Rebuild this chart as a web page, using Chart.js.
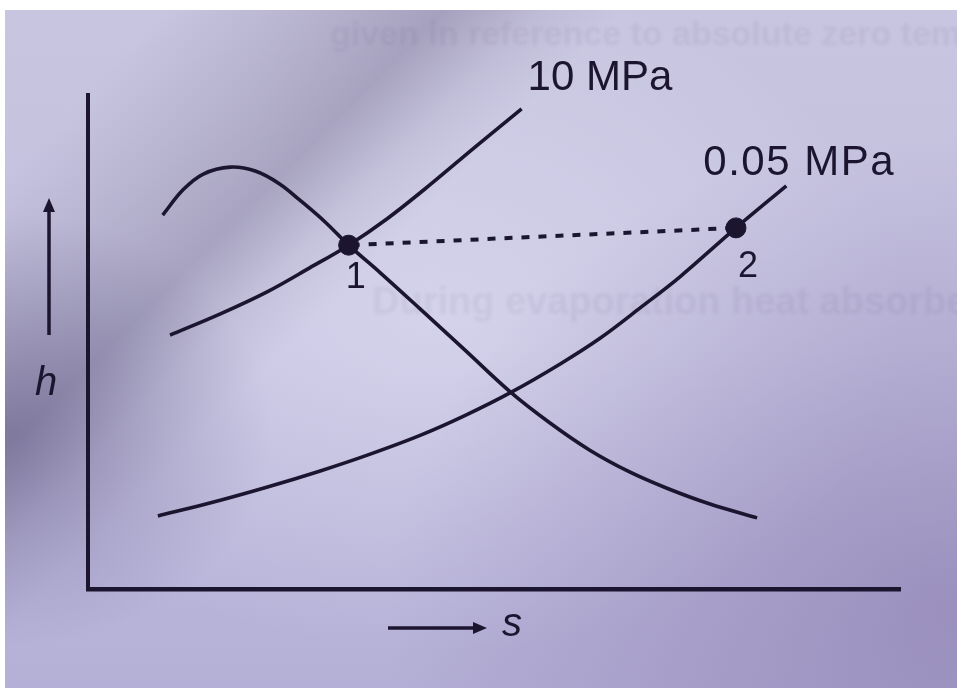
<!DOCTYPE html>
<html>
<head>
<meta charset="utf-8">
<title>h-s diagram</title>
<script src="https://cdn.jsdelivr.net/npm/chart.js@4.4.1/dist/chart.umd.min.js"></script>
<style>
    html, body { margin: 0; padding: 0; background: #fff; }
    #wrap { position: relative; width: 957px; height: 691px; overflow: hidden; }
    /* printed page under uneven light */
    #paper {
        position: absolute; left: 5px; top: 10px; width: 952px; height: 678px;
        background:
            linear-gradient(135deg, rgba(70,62,95,0) 10%, rgba(70,62,95,0.14) 19%, rgba(60,52,88,0.26) 27%, rgba(70,62,95,0.08) 33%, rgba(70,62,95,0) 38%),
            radial-gradient(ellipse 28% 32% at 0% 62%, rgba(60,50,95,0.32), rgba(60,50,95,0)),
            radial-gradient(ellipse 60% 70% at 100% 88%, rgba(110,90,150,0.40), rgba(110,90,150,0)),
            radial-gradient(ellipse 50% 50% at 45% 45%, rgba(238,238,252,0.40), rgba(238,238,252,0)),
            linear-gradient(180deg, #c8c5e0 0%, #c3c0df 50%, #b4afd6 100%);
    }
    #chart { position: absolute; left: 0; top: 0; }
</style>
</head>
<body>
<div id="wrap">
    <div id="paper"></div>
    <canvas id="chart" width="957" height="691"></canvas>
</div>
<script>
(function() {
    'use strict';

    // Saturation line (schematic units)
    var satS = [0.92, 1.17, 1.42, 1.75, 2.06, 2.36, 2.61, 2.92, 3.21, 3.60, 4.09, 4.64, 5.20, 5.69, 6.18, 6.67, 7.13, 7.66, 8.24];
    var satH = [7.57, 8.08, 8.40, 8.54, 8.46, 8.20, 7.87, 7.43, 6.96, 6.40, 5.67, 4.84, 3.99, 3.36, 2.81, 2.37, 2.04, 1.72, 1.44];

    // 10 MPa isobar
    var hpS = [1.01, 1.63, 2.20, 2.73, 3.21, 3.68, 4.21, 4.77, 5.34];
    var hpH = [5.14, 5.57, 6.01, 6.50, 6.96, 7.49, 8.18, 8.95, 9.72];

    // 0.05 MPa isobar
    var lpS = [0.86, 1.50, 2.20, 2.86, 3.44, 4.09, 4.64, 5.22, 5.81, 6.31, 6.80, 7.29, 7.98, 8.60];
    var lpH = [1.48, 1.74, 2.06, 2.39, 2.71, 3.11, 3.51, 3.99, 4.55, 5.08, 5.69, 6.32, 7.31, 8.16];

    // State points 1 -> 2
    var stateS = [3.21, 7.98];
    var stateH = [6.96, 7.31];
    var stateLabels = ['1', '2'];

    var isobarLabels = ['10 MPa', '0.05 MPa'];
    var axisLabels = ['h', 's'];

    var INK = '#1c1530';
    var FONT = '"Liberation Sans", Arial, Helvetica, sans-serif';

    function toPoints(xs, ys) {
        return xs.map(function(x, i) {
            return { x: x, y: ys[i] };
        });
    }

    function curve(data) {
        return {
            data: data,
            borderColor: INK,
            borderWidth: 3.6,
            pointRadius: 0,
            tension: 0.35,
            fill: false
        };
    }

    function arrow(ctx, x1, y1, x2, y2) {
        var a = Math.atan2(y2 - y1, x2 - x1);
        var len = 14, half = 6;
        var bx = x2 - Math.cos(a) * len, by = y2 - Math.sin(a) * len;
        ctx.beginPath();
        ctx.moveTo(x1, y1);
        ctx.lineTo(bx, by);
        ctx.stroke();
        ctx.beginPath();
        ctx.moveTo(x2, y2);
        ctx.lineTo(bx - Math.sin(a) * half, by + Math.cos(a) * half);
        ctx.lineTo(bx + Math.sin(a) * half, by - Math.cos(a) * half);
        ctx.closePath();
        ctx.fill();
    }

    /**
     * Text and arrows around the plot
     */
    var diagramLabels = {
        id: 'diagramLabels',
        beforeDraw: function(chart) {
            // faint print showing through from the page
            var ctx = chart.ctx;
            ctx.save();
            ctx.filter = 'blur(1.5px)';
            ctx.fillStyle = 'rgba(50,40,80,0.06)';
            ctx.font = 'bold 34px ' + FONT;
            ctx.fillText('given in reference to absolute zero tempe', 330, 45);
            ctx.font = 'bold 38px ' + FONT;
            ctx.fillText('During evaporation heat absorbed is e', 372, 314);
            ctx.restore();
        },
        afterDraw: function(chart) {
            var ctx = chart.ctx;
            var sx = chart.scales.x;
            var hy = chart.scales.y;
            var area = chart.chartArea;
            var n;

            ctx.save();
            ctx.fillStyle = INK;
            ctx.strokeStyle = INK;
            ctx.lineWidth = 3.5;
            ctx.textBaseline = 'alphabetic';

            // isobar names at the top end of each line
            ctx.font = '42px ' + FONT;
            ctx.textAlign = 'left';
            n = hpS.length - 1;
            ctx.fillText(isobarLabels[0], sx.getPixelForValue(hpS[n]) + 6, hy.getPixelForValue(hpH[n]) - 19);
            n = lpS.length - 1;
            ctx.letterSpacing = '1.5px';
            ctx.fillText(isobarLabels[1], sx.getPixelForValue(lpS[n]) - 83, hy.getPixelForValue(lpH[n]) - 11);
            ctx.letterSpacing = '0px';

            // state numbers under the dots
            ctx.font = '36px ' + FONT;
            ctx.textAlign = 'center';
            var offX = [7, 12], offY = [43, 49];
            stateLabels.forEach(function(label, i) {
                ctx.fillText(label,
                    sx.getPixelForValue(stateS[i]) + offX[i],
                    hy.getPixelForValue(stateH[i]) + offY[i]);
            });

            // axis arrows with names
            var ax = area.left - 39;
            arrow(ctx, ax, area.top + 240, ax, area.top + 103);
            var ay = area.bottom + 39;
            arrow(ctx, area.left + 300, ay, area.left + 399, ay);

            ctx.font = 'italic 40px ' + FONT;
            ctx.textAlign = 'left';
            ctx.fillText(axisLabels[0], area.left - 53, area.top + 300);
            ctx.fillText(axisLabels[1], area.left + 414, area.bottom + 47);

            ctx.restore();
        }
    };

    function flatScale(scale) {
        if (scale.isHorizontal()) {
            scale.height = 0;
        } else {
            scale.width = 0;
        }
    }

    var ctx = document.getElementById('chart').getContext('2d');

    new Chart(ctx, {
        type: 'line',
        data: {
            datasets: [
                {
                    // state points
                    data: toPoints(stateS, stateH),
                    showLine: false,
                    pointRadius: 10,
                    pointBackgroundColor: INK,
                    pointBorderColor: INK,
                    pointBorderWidth: 1
                },
                {
                    // isenthalpic expansion 1-2
                    data: toPoints(stateS, stateH),
                    borderColor: INK,
                    borderWidth: 4,
                    borderDash: [8, 9],
                    borderDashOffset: -20,
                    pointRadius: 0,
                    fill: false
                },
                curve(toPoints(satS, satH)),
                curve(toPoints(hpS, hpH)),
                curve(toPoints(lpS, lpH))
            ]
        },
        options: {
            responsive: false,
            animation: false,
            clip: false,
            layout: {
                padding: { left: 88, top: 95, right: 57, bottom: 102 }
            },
            plugins: {
                legend: { display: false },
                tooltip: { enabled: false }
            },
            scales: {
                x: {
                    type: 'linear',
                    min: 0,
                    max: 10,
                    grid: { display: false },
                    ticks: { display: false },
                    border: { display: true, color: INK, width: 4.5 },
                    afterFit: flatScale
                },
                y: {
                    type: 'linear',
                    min: 0,
                    max: 10,
                    grid: { display: false },
                    ticks: { display: false },
                    border: { display: true, color: INK, width: 4 },
                    afterFit: flatScale
                }
            }
        },
        plugins: [diagramLabels]
    });
})();
</script>
</body>
</html>
